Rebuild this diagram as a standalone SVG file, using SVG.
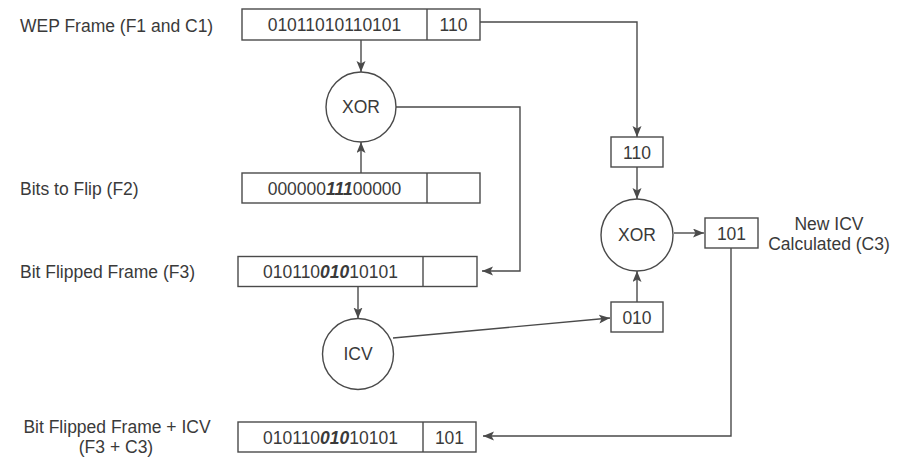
<svg xmlns="http://www.w3.org/2000/svg" width="903" height="466" viewBox="0 0 903 466">
<style>
  text { font-family: "Liberation Sans", Arial, Helvetica, sans-serif; font-size: 17.5px; fill: #3a3a3a; }
  .lbl { text-anchor: start; }
  .c { text-anchor: middle; }
  .b { font-weight: bold; font-style: italic; }
  .box { fill: #ffffff; stroke: #4a4a4a; stroke-width: 1.4; }
  .node { fill: #ffffff; stroke: #4a4a4a; stroke-width: 1.4; }
  .conn { fill: none; stroke: #4a4a4a; stroke-width: 1.4; marker-end: url(#arr); }
</style>
<defs>
  <marker id="arr" markerUnits="userSpaceOnUse" markerWidth="12" markerHeight="10" refX="11" refY="4.5" orient="auto">
    <path d="M0,0 L11,4.5 L0,9 L2.5,4.5 z" fill="#4a4a4a"/>
  </marker>
</defs>
<rect width="903" height="466" fill="#ffffff"/>

<g id="labels">
  <text class="lbl" x="20" y="31.5">WEP Frame (F1 and C1)</text>
  <text class="lbl" x="20" y="195">Bits to Flip (F2)</text>
  <text class="lbl" x="20" y="278">Bit Flipped Frame (F3)</text>
  <text class="c" x="117" y="432.5">Bit Flipped Frame + ICV</text>
  <text class="c" x="116" y="452.5">(F3 + C3)</text>
  <text class="c" x="829" y="229.5">New ICV</text>
  <text class="c" x="829" y="250">Calculated (C3)</text>
</g>

<g id="frameF1">
  <rect class="box" x="242" y="9" width="238" height="31"/>
  <line x1="427" y1="9" x2="427" y2="40" stroke="#4a4a4a" stroke-width="1.4"/>
  <text class="c" x="334.5" y="31">01011010110101</text>
  <text class="c" x="453.5" y="31">110</text>
</g>

<g id="xor1">
  <circle class="node" cx="361" cy="107" r="35"/>
  <text class="c" x="361" y="113">XOR</text>
</g>

<g id="frameF2">
  <rect class="box" x="242" y="173" width="238" height="30"/>
  <line x1="427" y1="173" x2="427" y2="203" stroke="#4a4a4a" stroke-width="1.4"/>
  <text class="c" x="334.5" y="194.5">000000<tspan class="b">111</tspan>00000</text>
</g>

<g id="frameF3">
  <rect class="box" x="238" y="256.5" width="239" height="30"/>
  <line x1="423" y1="256.5" x2="423" y2="286.5" stroke="#4a4a4a" stroke-width="1.4"/>
  <text class="c" x="330.5" y="278">010110<tspan class="b">010</tspan>10101</text>
</g>

<g id="icv">
  <circle class="node" cx="358" cy="354" r="35.5"/>
  <text class="c" x="358" y="360">ICV</text>
</g>

<g id="frameF3C3">
  <rect class="box" x="238" y="422" width="238" height="30"/>
  <line x1="423" y1="422" x2="423" y2="452" stroke="#4a4a4a" stroke-width="1.4"/>
  <text class="c" x="330.5" y="443.5">010110<tspan class="b">010</tspan>10101</text>
  <text class="c" x="449.5" y="443.5">101</text>
</g>

<g id="box110">
  <rect class="box" x="611" y="137" width="52" height="30"/>
  <text class="c" x="637" y="158.5">110</text>
</g>

<g id="xor2">
  <circle class="node" cx="637" cy="235" r="36"/>
  <text class="c" x="637" y="241">XOR</text>
</g>

<g id="box101">
  <rect class="box" x="705" y="218" width="53" height="30"/>
  <text class="c" x="731.5" y="239.5">101</text>
</g>

<g id="box010">
  <rect class="box" x="611" y="302" width="52" height="30"/>
  <text class="c" x="637" y="323.5">010</text>
</g>

<g id="connectors">
  <line class="conn" x1="361" y1="40" x2="361" y2="72"/>
  <line class="conn" x1="361" y1="173" x2="361" y2="142"/>
  <path class="conn" d="M396,107 H520 V271 H482"/>
  <line class="conn" x1="358" y1="286.5" x2="358" y2="318.5"/>
  <line class="conn" x1="393" y1="338" x2="610" y2="318"/>
  <path class="conn" d="M480,22 H637 V137"/>
  <line class="conn" x1="637" y1="167" x2="637" y2="199"/>
  <line class="conn" x1="637" y1="302" x2="637" y2="271"/>
  <line class="conn" x1="674" y1="233" x2="704" y2="233"/>
  <path class="conn" d="M731,248 V436 H483"/>
</g>
</svg>
